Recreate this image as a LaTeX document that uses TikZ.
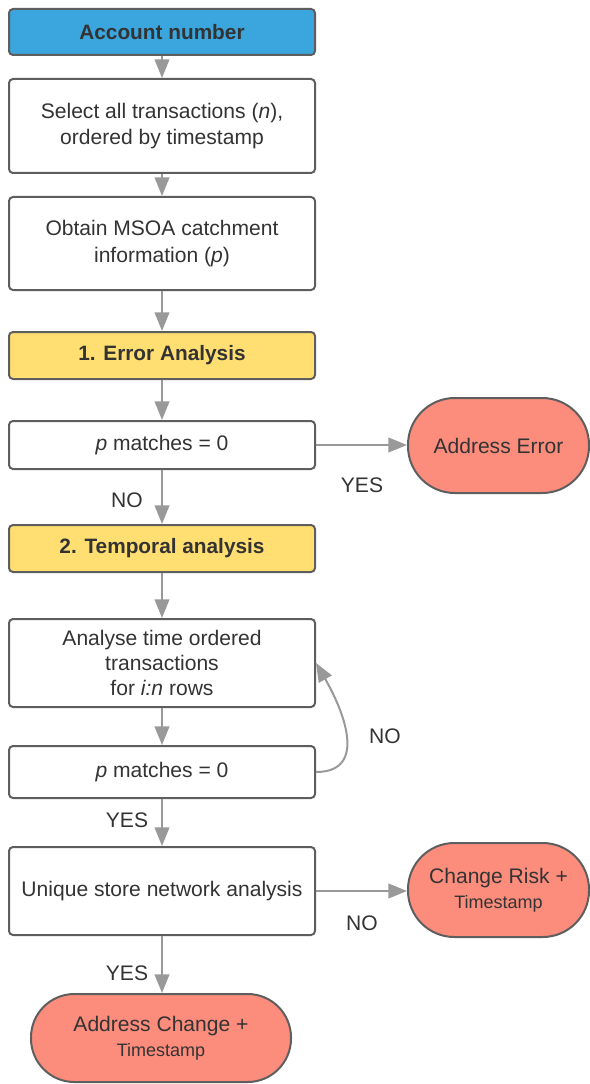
\documentclass[tikz,border=0pt]{standalone}
\usepackage{fontspec}
\setmainfont{Liberation Sans}
\usetikzlibrary{arrows.meta}
\definecolor{bluef}{HTML}{3AA6DD}
\definecolor{yellowf}{HTML}{FFDF71}
\definecolor{salmonf}{HTML}{FC8D7D}
\definecolor{edgec}{HTML}{5E5E5E}
\definecolor{txt}{HTML}{333333}
\definecolor{arrc}{HTML}{999999}
\begin{document}
\begin{tikzpicture}[x=0.75pt,y=-0.75pt,
  base/.style={draw=edgec, line width=1.5pt, inner sep=0pt, align=center, text=txt,
    font=\fontsize{15.8}{20}\selectfont},
  box/.style 2 args={base, fill=white, rounded corners=3pt,
    minimum width=#1*0.75pt, minimum height=#2*0.75pt},
  term/.style 2 args={base, fill=salmonf, rounded corners=#2*0.37pt,
    minimum width=#1*0.75pt, minimum height=#2*0.75pt},
  head/.style={font=\fontsize{15.6}{20}\selectfont\bfseries},
  arr/.style={draw=arrc, line width=1.5pt, -{Triangle[width=11pt,length=14pt]}},
  lab/.style={text=txt, inner sep=0pt, font=\fontsize{15.8}{20}\selectfont}
]
\useasboundingbox (0,0) rectangle (589,1084);

\node[box={306}{46}, fill=bluef, head] (acc) at (162,32) {Account number};
\node[box={306}{94}] (sel) at (162,126) {Select all transactions (\textit{n}),\\ordered by timestamp};
\node[box={306}{93}] (obt) at (162,243.5) {Obtain MSOA catchment\\information (\textit{p})};
\node[box={306}{47}, fill=yellowf, head] (err) at (162,355.5) {1. Error Analysis};
\node[box={306}{48}] (pm1) at (162,445) {\textit{p} matches = 0};
\node[term={181}{95}] (ae) at (498.5,445.5) {Address Error};
\node[box={306}{47}, fill=yellowf, head] (temp) at (162,548.5) {2. Temporal analysis};
\node[box={306}{88}, font=\fontsize{15.8}{19}\selectfont] (ana) at (162,663) {Analyse time ordered\\transactions\\for \textit{i:n} rows};
\node[box={306}{52}] (pm2) at (162,772) {\textit{p} matches = 0};
\node[box={306}{88}] (uni) at (162,891) {Unique store network analysis};
\node[term={181}{94}] (cr) at (498.5,890) {Change Risk +\\[-1pt]{\fontsize{13.5}{18}\selectfont Timestamp}};
\node[term={260}{88}] (ac) at (161,1038) {Address Change +\\[-1pt]{\fontsize{13.5}{18}\selectfont Timestamp}};

\draw[arr] (acc) -- (sel);
\draw[arr] (sel) -- (obt);
\draw[arr] (obt) -- (err);
\draw[arr] (err) -- (pm1);
\draw[arr] (pm1.east) -- (pm1.east -| ae.west);
\draw[arr] (pm1) -- (temp);
\draw[arr] (temp) -- (ana);
\draw[arr] (ana) -- (pm2);
\draw[arr] (pm2.east) to[out=0,in=-60,looseness=1.25] (ana.east);
\draw[arr] (pm2) -- (uni);
\draw[arr] (uni.east) -- (uni.east -| cr.west);
\draw[arr] (uni.south) -- (uni.south |- ac.north);

\node[lab] (l1) at (362,485) {YES};
\node[lab] (l2) at (127,500) {NO};
\node[lab] (l3) at (385,736) {NO};
\node[lab] (l4) at (127,820) {YES};
\node[lab] (l5) at (362,923) {NO};
\node[lab] (l6) at (127,973) {YES};
\end{tikzpicture}
\end{document}
